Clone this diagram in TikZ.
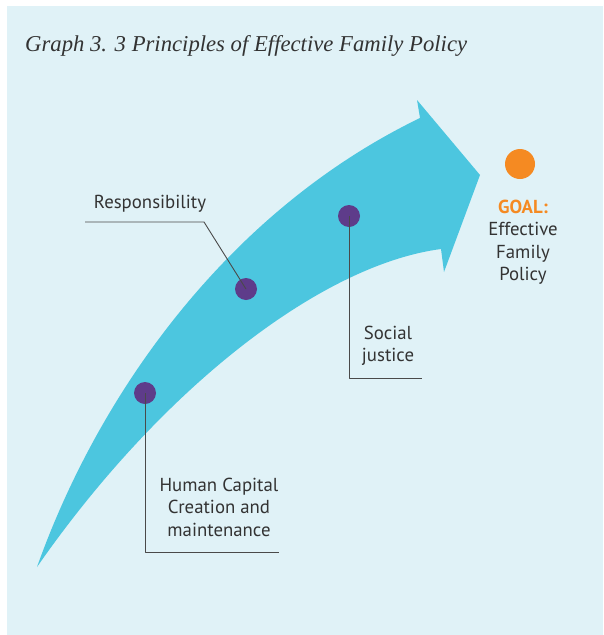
\documentclass[tikz,border=0pt]{standalone}
\usepackage{fontspec}
\setsansfont{PT Sans}
\newfontfamily\titlefont{Liberation Serif}
\usepackage{tikz}

\definecolor{bgblue}{HTML}{E0F2F7}
\definecolor{arrowcyan}{HTML}{4CC6DF}
\definecolor{dotpurple}{HTML}{5E3C8A}
\definecolor{goalorange}{HTML}{F58A22}
\definecolor{textgray}{HTML}{333333}
\definecolor{linegray}{HTML}{4A4A4A}

\tikzset{
  dot/.style={circle,fill=dotpurple,minimum size=22pt,inner sep=0pt},
  leader/.style={linegray,line width=0.9pt},
  label/.style={align=center,text=textgray,inner sep=0pt,
    font=\sffamily\fontsize{18.8}{22.5}\selectfont}
}

\begin{document}
\begin{tikzpicture}[x=1pt,y=-1pt,line join=round]
  \useasboundingbox (0,0) rectangle (603,635);
  \fill[bgblue] (7,6) rectangle (603,635);
  \node[anchor=base west,inner sep=0pt,text=textgray,
    font=\titlefont\itshape\fontsize{22.7}{26}\selectfont] (title) at (25,51)
    {Graph 3. 3 Principles of Effective Family Policy};
  % the big arrow
  \coordinate (tail) at (37,567);
  \coordinate (upbarb) at (417,100);
  \coordinate (tip) at (480,175);
  \coordinate (lowbarb) at (444,272);
  \fill[arrowcyan] (tail) .. controls (100,390) and (230,210) .. (420,118)
    -- (upbarb) -- (tip) -- (lowbarb) -- (441,249)
    .. controls (320,265) and (160,390) .. (tail) -- cycle;
  % principles
  \node[dot] (hc) at (145,393) {};
  \node[dot] (resp) at (246,289) {};
  \node[dot] (soc) at (349,216) {};
  \coordinate (hcend) at (279,552);
  \coordinate (respbend) at (204,222);
  \coordinate (respend) at (85,222);
  \coordinate (socend) at (422,378);
  \draw[leader] (hc.center) |- (hcend);
  \draw[leader] (resp.center) -- (respbend) -- (respend);
  \draw[leader] (soc.center) |- (socend);
  \node[label] (hclabel) at (219,507) {Human Capital\\Creation and\\maintenance};
  \node[label] (resplabel) at (150,204) {Responsibility};
  \node[label] (soclabel) at (388,346) {Social\\justice};
  % goal
  \node[circle,fill=goalorange,minimum size=30pt,inner sep=0pt] (goal) at (520,164) {};
  \node[label] (goallabel) at (523,242)
    {\textcolor{goalorange}{\bfseries GOAL:}\\Effective\\Family\\Policy};
\end{tikzpicture}
\end{document}
